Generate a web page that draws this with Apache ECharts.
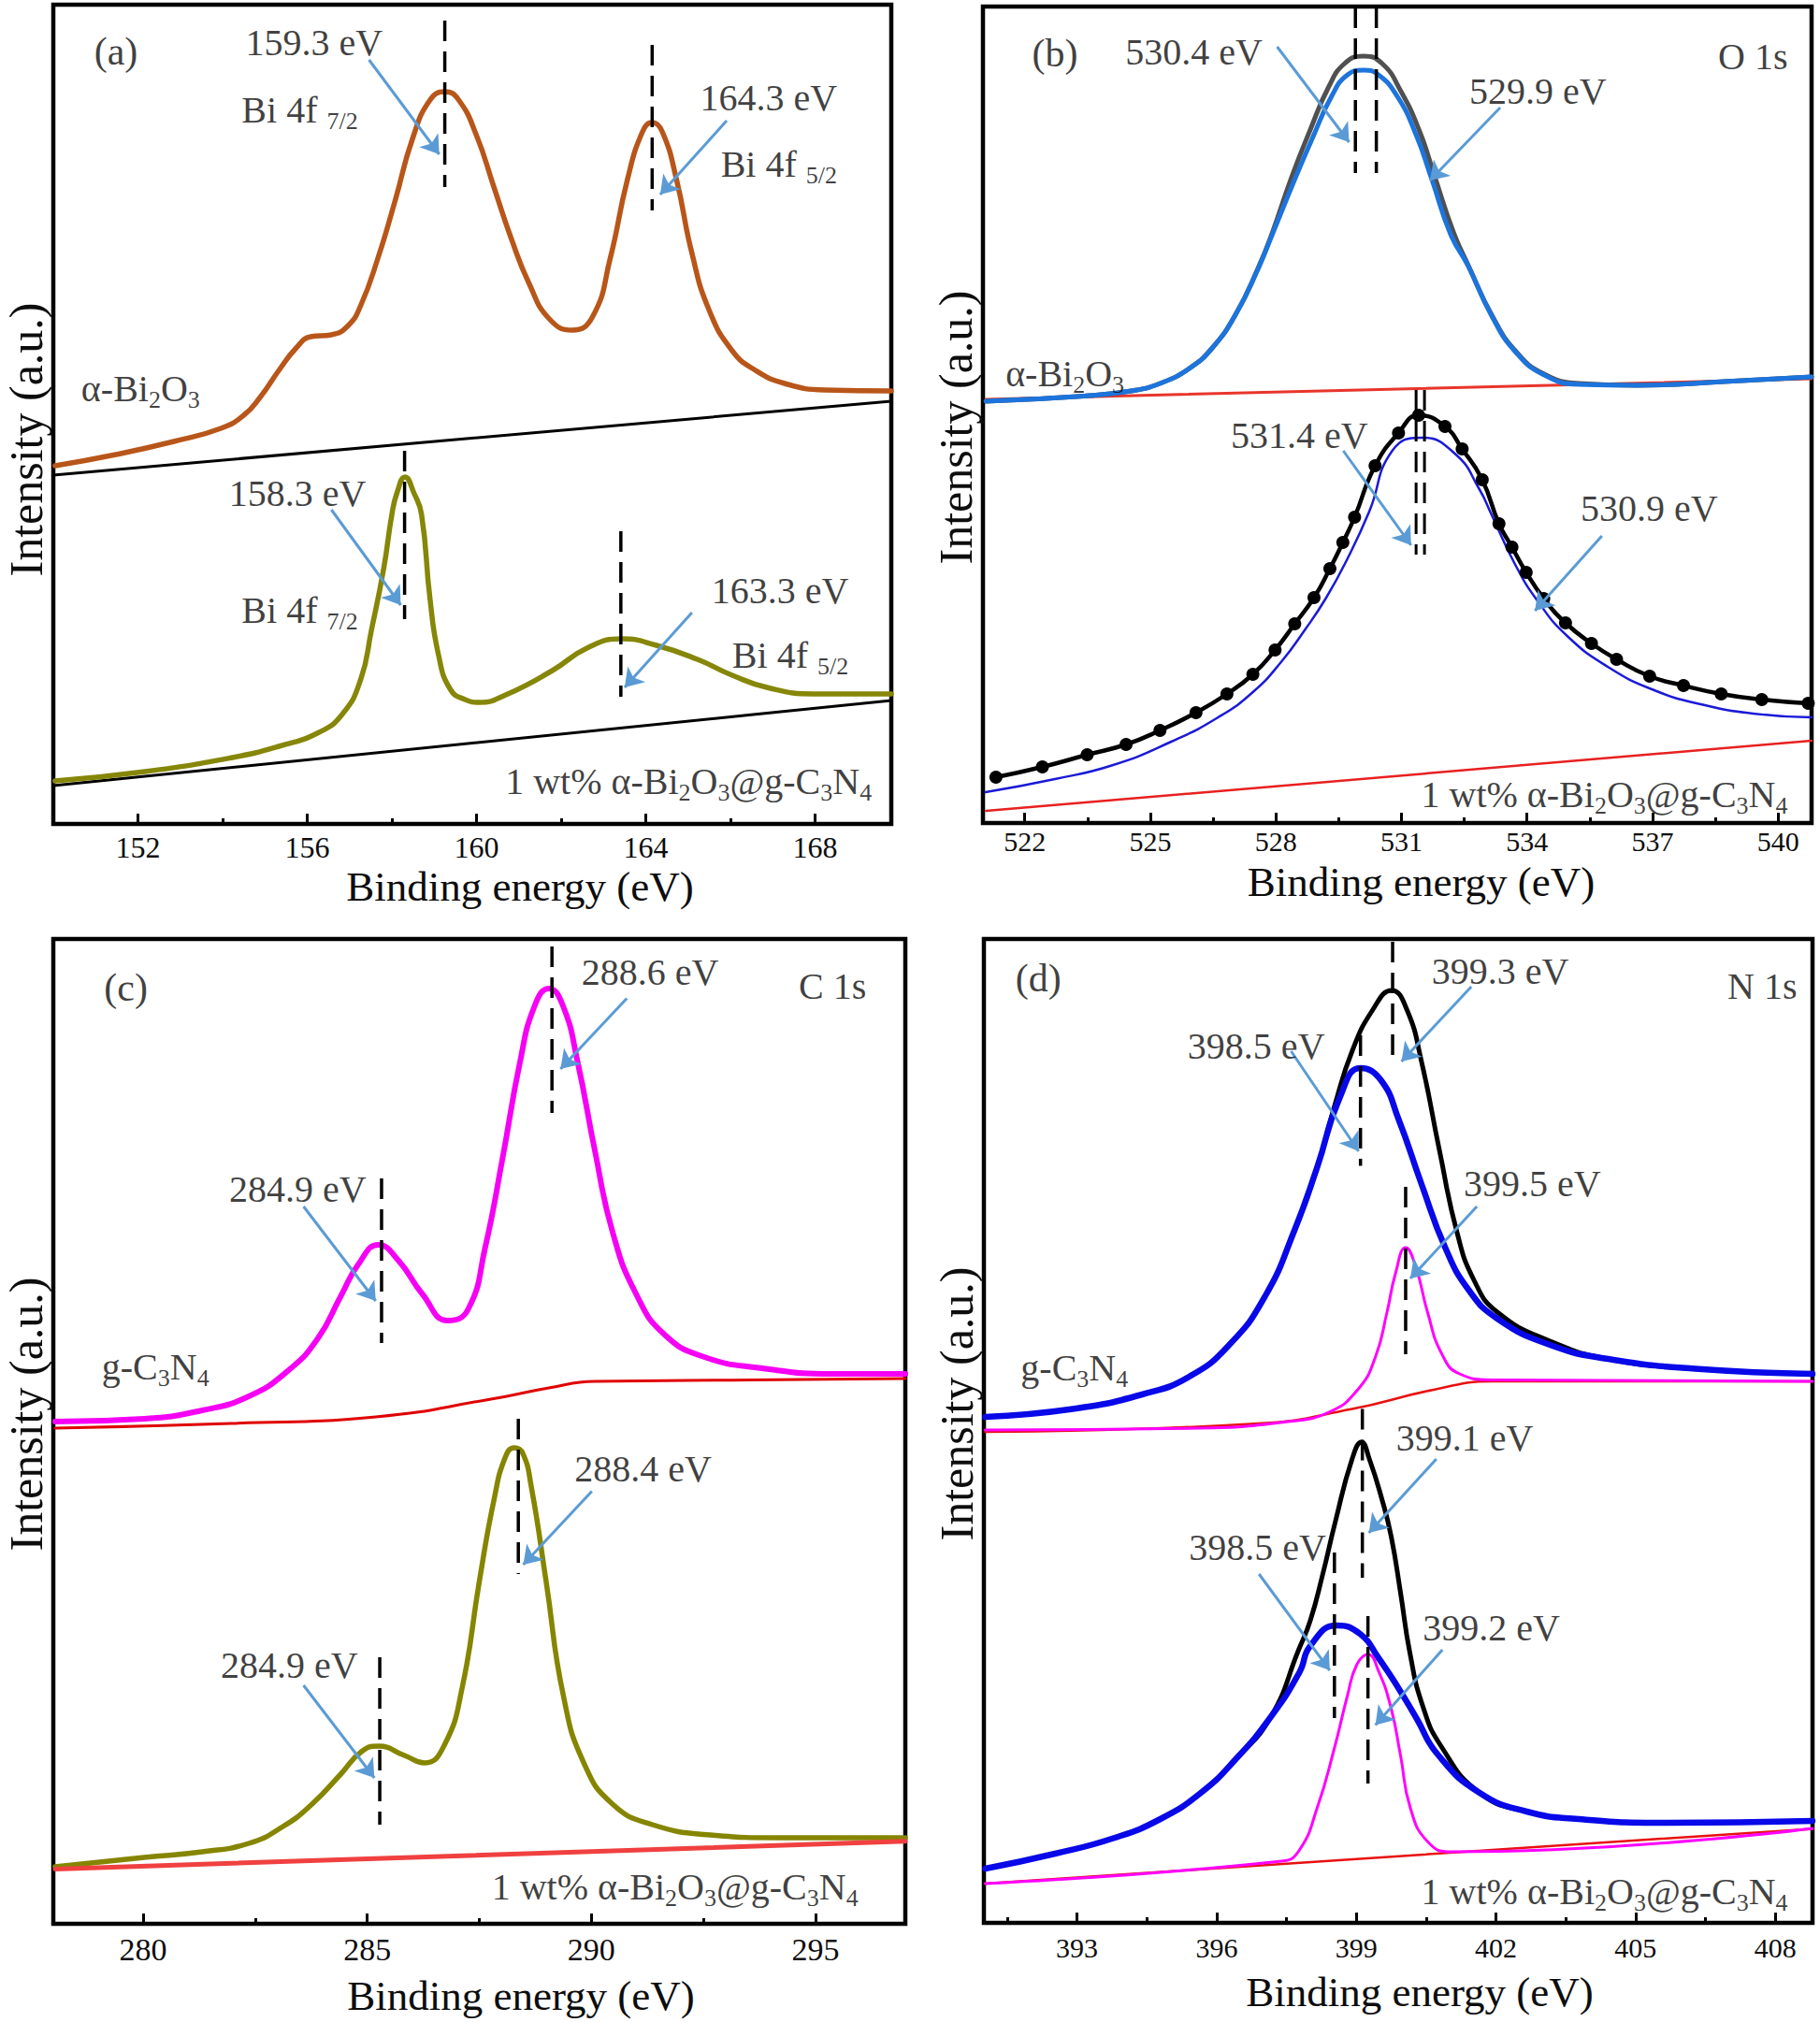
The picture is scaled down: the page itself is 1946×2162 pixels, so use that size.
<!DOCTYPE html>
<html><head><meta charset="utf-8">
<script src="https://cdn.jsdelivr.net/npm/echarts@6/dist/echarts.min.js"></script>
<style>html,body{margin:0;padding:0;background:#fff}#c{width:1946px;height:2162px}</style>
</head><body><div id="c"></div>
<script>
// ---------- tick labels ----------
const aTicks = [152,156,160,164,168];           const aMinor = [154,158,162,166];
const bTicks = [522,525,528,531,534,537,540];   const bMinor = [523.5,526.5,529.5,532.5,535.5,538.5];
const cTicks = [280,285,290,295];               const cMinor = [282.5,287.5,292.5];
const dTicks = [393,396,399,402,405,408];       const dMinor = [391.5,394.5,397.5,400.5,403.5,406.5];

// ---------- (a) Bi 4f : [binding energy eV, intensity a.u.] ----------
const aBi2O3 = [[150.04,383],[151.48,395],[152.85,409],[153.96,423],[154.5,437],[154.9,457],[155.33,485],[155.74,509],[156.08,521],[156.57,523],[156.97,533],[157.26,554],[157.67,605],[158.08,667],[158.49,733],[158.9,774],[159.25,783],[159.58,774],[160.0,736],[160.41,681],[160.82,626],[161.24,578],[161.72,540],[162.26,528],[162.75,543],[163.16,605],[163.56,688],[163.92,740],[164.15,750],[164.39,740],[164.73,688],[165.08,612],[165.49,550],[166.04,506],[166.59,485],[167.28,471],[168.23,464],[169.8,463]];
const aBi2O3Bg = [[150,373],[169.8,452]];
const aComp = [[150.04,46],[152.17,56],[154.23,71],[155.33,83],[156.28,98],[156.84,118],[157.26,154],[157.52,208],[157.81,274],[158.0,331],[158.12,354],[158.31,371],[158.52,354],[158.7,331],[158.9,241],[159.1,181],[159.38,144],[159.73,133],[160.07,130],[160.69,138],[161.79,164],[162.61,188],[163.43,198],[164.25,191],[165.22,176],[166.04,159],[166.86,146],[167.96,139],[169.8,139]];
const aCompBg = [[150,41],[169.8,132]];
const aPeaks = [[159.25,681,859],[164.15,656,833],[158.3,219,399],[163.41,136,313]]; // [eV, low, high]

// ---------- (b) O 1s ----------
const bBi2O3Env = [[521.07,451],[523.42,456.5],[524.54,462],[525.23,470],[525.93,486],[526.48,508],[527.04,544],[527.58,594],[527.92,632],[528.37,690],[528.81,740],[529.26,787],[529.64,812],[530.09,820],[530.54,812],[530.98,783],[531.43,740],[531.79,692],[532.24,632],[532.6,596],[533.16,543],[533.72,505],[534.41,480],[535.24,470],[536.63,468],[538.71,472],[540.8,477]];
const bBi2O3Fit = [[521.07,451],[523.42,456.5],[524.54,462],[525.23,470],[525.93,486],[526.48,508],[527.04,544],[527.58,593],[527.92,630],[528.43,686],[528.88,733],[529.33,777],[529.71,800],[530.09,805],[530.45,800],[530.9,777],[531.34,737],[531.72,689],[532.17,630],[532.6,595],[533.16,542],[533.72,504],[534.41,479],[535.24,469],[536.63,468],[538.71,472],[540.8,477]];
const bBi2O3Bg = [[521.07,453],[540.8,475]];
const bCompExp = [[521.31,49],[522.42,60],[523.49,73],[524.42,84],[525.23,99],[526.09,118],[526.83,138],[527.45,159],[527.98,185],[528.45,213],[528.91,241],[529.29,272],[529.6,300],[529.88,327],[530.37,382],[530.93,417],[531.41,436],[532.04,424],[532.45,400],[532.93,367],[533.33,320],[533.64,295],[533.98,268],[534.4,240],[534.92,214],[535.54,192],[536.14,175],[536.93,157],[537.74,147],[538.64,138],[539.61,132],[540.72,128]];
const bCompFit = [[521.06,33],[522.72,47],[524.11,62],[525.5,87],[526.62,113],[527.45,140],[528.14,173],[528.7,207],[529.19,240],[529.68,280],[530.23,333],[530.78,398],[531.48,412],[532.3,394],[532.86,357],[533.15,330],[533.71,277],[534.26,237],[534.96,200],[535.93,167],[537.04,142],[538.15,127],[539.4,117],[540.8,113]];
const bCompBg = [[521.07,13],[540.8,88]];
const bPeaks = [[529.9,695,872],[530.4,695,872],[531.35,287,463],[531.55,287,463]];

// ---------- (c) C 1s ----------
const cGCN = [[278.04,537],[280.03,540],[281.32,549],[282.36,564],[283.25,592],[283.9,626],[284.41,671],[284.8,705],[285.25,726],[285.7,709],[286.22,674],[286.8,645],[287.25,657],[287.63,723],[288.02,819],[288.41,922],[288.73,981],[289.05,1000],[289.37,981],[289.69,922],[290.08,826],[290.47,740],[290.99,674],[291.63,630],[292.52,606],[293.81,594],[295.37,588],[297,588]];
const cGCNBg = [[278.04,530],[281.96,535],[285.19,542],[287.76,561],[289.05,573],[290.08,580],[293.56,581.5],[297,583]];
const cComp = [[278.04,61],[280.03,71],[281.32,77],[282.36,86],[283.12,104],[283.77,128],[284.41,160],[284.87,184],[285.25,190],[285.83,180],[286.28,172],[286.73,192],[287.12,253],[287.5,366],[287.83,454],[288.08,499],[288.28,509],[288.47,503],[288.66,467],[288.99,366],[289.37,245],[289.83,172],[290.47,128],[291.36,106],[292.66,95],[294.2,92],[297,92]];
const cCompBg = [[278.04,58.5],[297,88.3]];
const cPeaks = [[285.32,621,797],[289.12,867,1045],[288.37,374,540],[285.28,106,285]];

// ---------- (d) N 1s ----------
const dGCNEnv = [[391.03,541],[392.91,549.5],[394.4,565],[395.41,584],[396.27,618],[397.04,670],[397.66,739],[398.16,808],[398.53,873],[398.91,932],[399.35,976],[399.76,997],[400.09,976],[400.4,921],[400.79,825],[401.16,739],[401.53,687],[402.03,653],[403.16,622],[404.41,603],[406.28,592.5],[408.8,587]];
const dGCNC1 = [[391.03,541],[392.91,549.5],[394.4,565],[395.41,584],[396.27,618],[397.04,670],[397.66,739],[398.16,808],[398.65,883],[399.09,914],[399.53,901],[399.91,859],[400.4,790],[400.91,722],[401.41,677],[402.03,646],[403.16,618],[404.41,603],[406.28,592.5],[408.8,587]];
const dGCNC2 = [[391.03,527],[395.65,529],[397.53,536],[398.41,546],[399.03,570],[399.41,605],[399.66,653],[399.84,694],[400.06,722],[400.28,701],[400.53,653],[400.84,608],[401.22,587],[401.91,580.5],[408.8,579]];
const dGCNBg = [[391.03,525],[396.9,534],[398.91,549.5],[400.66,570],[401.91,579],[408.8,579]];
const dCompEnv = [[391.03,58],[392.53,74],[393.78,90.5],[394.79,111],[395.66,139],[396.41,175],[397.16,220],[397.77,293],[398.01,323],[398.28,373],[398.55,429],[398.91,496],[399.11,514],[399.28,496],[399.55,453],[399.75,413],[399.95,353],[400.15,289],[400.42,233],[400.82,189],[401.65,139],[402.66,119],[403.78,111],[405.66,107],[408.8,109]];
const dCompC1 = [[391.03,58],[392.53,74],[393.78,90.5],[394.79,111],[395.66,139],[396.41,175],[397.16,220],[397.78,268],[398.01,296],[398.58,318],[399.08,309],[399.48,283],[399.88,253],[400.29,219],[400.75,180],[401.65,139],[402.66,119],[403.78,111],[405.66,107],[408.8,109]];
const dCompC2 = [[391.03,42],[397.4,66],[397.78,78],[398.16,123],[398.53,187],[398.81,243],[399.01,276],[399.25,287],[399.48,269],[399.75,229],[399.95,179],[400.16,123],[400.53,87],[401.03,76],[408.8,101]];
const dCompBg = [[391.03,42],[408.8,100.6]];
const dPeaks = [[399.09,809.5,949],[399.78,921,1049],[400.06,608,787],[399.13,369,549.5],[398.53,219,396],[399.25,149,328]];

// ---------- annotation texts: [text, x, y, align, fontSize] ----------
const BI = 'α-Bi{s|2}O{s|3}', COMP = '1 wt% α-Bi{s|2}O{s|3}@g-C{s|3}N{s|4}', GCN = 'g-C{s|3}N{s|4}';
const aNotes = [['(a)',151.48,826,'center',42],['159.3 eV',156.16,836,'center'],['Bi 4f {s|7/2}',154.45,764,'left'],['164.3 eV',166.9,777,'center'],['Bi 4f {s|5/2}',165.77,706,'left'],[BI,150.66,466,'left'],['158.3 eV',155.77,354,'center'],['Bi 4f {s|7/2}',154.45,229,'left'],['163.3 eV',167.17,250,'center'],['Bi 4f {s|5/2}',166.04,181,'left'],[COMP,169.34,46,'right']];
const bNotes = [['(b)',522.72,823,'center',42],['530.4 eV',526.04,825,'center'],['529.9 eV',534.26,783,'center'],['O 1s',540.23,820,'right'],[BI,521.54,481,'left'],['531.4 eV',528.56,415,'center'],['530.9 eV',536.92,337,'center'],[COMP,540.23,31,'right']];
const cNotes = [['(c)',279.62,1001,'center',42],['288.6 eV',291.31,1018,'center'],['C 1s',296.13,1003,'right'],['284.9 eV',283.45,786,'center'],[GCN,279.08,596,'left'],['288.4 eV',291.15,487,'center'],['284.9 eV',283.26,277,'center'],[COMP,295.95,40,'right']];
const dNotes = [['(d)',392.17,1010,'center',42],['399.3 eV',402.09,1018,'center'],['N 1s',408.47,1002,'right'],['398.5 eV',396.85,938,'center'],['399.5 eV',402.78,791,'center'],[GCN,391.79,594,'left'],['399.1 eV',401.33,519,'center'],['398.5 eV',396.88,402,'center'],['399.2 eV',401.9,316,'center'],[COMP,408.27,34,'right']];
// arrows: [from, to]
const aArrows = [[[157.46,817],[159.12,716]],[[165.91,752],[164.34,673]],[[156.57,336],[158.21,234]],[[165.09,226],[163.5,146]]];
const bArrows = [[[528.03,830],[529.75,728]],[[533.36,765],[531.68,687]],[[529.61,398],[531.23,297]],[[535.79,307],[534.19,227]]];
const cArrows = [[[283.58,767],[285.19,666]],[[290.79,989.5],[289.31,914]],[[283.58,255],[285.16,156]],[[290.01,462.5],[288.48,384]]];
const dArrows = [[[397.6,932],[399.05,825]],[[401.47,1001],[399.97,921]],[[401.59,766],[400.16,689]],[[400.72,496],[399.27,417]],[[396.91,373],[398.43,270]],[[400.85,292],[399.41,211.5]]];

// ---------- layout ----------
const FONT = "'Liberation Serif','Times New Roman',serif";
const TXT = '#0d0d0d', ARROW = '#5B9BD5';
const panels = [
  {box:[57,5,896,876],     xr:[150,169.8], ymax:876,  major:aTicks, minor:aMinor, tf:32, tm:9,  ng:44, ns:51,   ys:27},
  {box:[1051,7,886,873],   xr:[521,540.8], ymax:873,  major:bTicks, minor:bMinor, tf:30, tm:4,  ng:40, ns:25.5, ys:13.5},
  {box:[57,1004,911,1053], xr:[278,297],   ymax:1053, major:cTicks, minor:cMinor, tf:34, tm:10, ng:54, ns:44.5, ys:-18.5},
  {box:[1052,1004,886,1052], xr:[391,408.8], ymax:1052, major:dTicks, minor:dMinor, tf:30, tm:11, ng:51, ns:23, ys:-29}
];

const grid = [], xAxis = [], yAxis = [], series = [];
panels.forEach((p, g) => {
  grid.push({left:p.box[0], top:p.box[1], width:p.box[2], height:p.box[3], show:true, borderColor:'#000', borderWidth:4.5, backgroundColor:'transparent', containLabel:false, outerBoundsMode:'none'});
  xAxis.push({gridIndex:g, type:'value', min:p.xr[0], max:p.xr[1], position:'bottom',
    name:'Binding energy (eV)', nameLocation:'middle', nameGap:p.ng,
    nameTextStyle:{fontFamily:FONT, fontSize:45, color:TXT, padding:[0,0,0,2*p.ns]},
    axisLine:{show:false}, splitLine:{show:false},
    axisTick:{show:true, inside:true, length:11, lineStyle:{color:'#000', width:3}, customValues:p.major},
    axisLabel:{show:true, customValues:p.major, fontFamily:FONT, fontSize:p.tf, color:TXT, margin:p.tm}});
  xAxis.push({gridIndex:g, type:'value', min:p.xr[0], max:p.xr[1], position:'bottom',
    axisLine:{show:false}, splitLine:{show:false}, axisLabel:{show:false},
    axisTick:{show:true, inside:true, length:6, lineStyle:{color:'#000', width:3}, customValues:p.minor}});
  yAxis.push({gridIndex:g, type:'value', min:0, max:p.ymax,
    name:'Intensity (a.u.)', nameLocation:'middle', nameGap:4,
    nameTextStyle:{fontFamily:FONT, fontSize:50, color:TXT, padding: p.ys > 0 ? [0, 2*p.ys, 0, 0] : [0, 0, 0, -2*p.ys]},
    axisLine:{show:false}, axisTick:{show:false}, axisLabel:{show:false}, splitLine:{show:false}});
});

function curve(g, data, color, width, extra) {
  return Object.assign({type:'line', xAxisIndex:2*g, yAxisIndex:g, data:data, smooth:0.5,
    symbol:'none', lineStyle:{color:color, width:width, join:'round', cap:'round'}, itemStyle:{color:color},
    silent:true, animation:false}, extra || {});
}
function peaks(g, list, width) {
  list.forEach(m => series.push({type:'line', xAxisIndex:2*g, yAxisIndex:g, data:[[m[0],m[2]],[m[0],m[1]]],
    symbol:'none', lineStyle:{color:'#000', width:width, type:[22,11]}, silent:true, animation:false, z:5}));
}
function notes(g, list, arrows) {
  series.push({type:'scatter', xAxisIndex:2*g, yAxisIndex:g, symbolSize:1, itemStyle:{color:'rgba(0,0,0,0)'},
    silent:true, animation:false, z:10,
    data: list.map(n => ({value:[n[1], n[2]], t:n[0], label:{align:n[3], fontSize:n[4] || 40}})),
    label:{show:true, position:'inside', formatter:p => p.data.t, fontFamily:FONT, fontSize:40, color:TXT,
      lineHeight:40, verticalAlign:'middle',
      rich:{s:{fontFamily:FONT, fontSize:26, lineHeight:26, color:TXT, padding:[24,0,0,0]}}}
  });
  series.push({type:'line', xAxisIndex:2*g, yAxisIndex:g, data:[], symbol:'none', silent:true, animation:false, z:9,
    itemStyle:{color:ARROW}, lineStyle:{color:ARROW},
    markLine:{silent:true, animation:false, symbol:['none','arrow'], symbolSize:19, label:{show:false},
      emphasis:{disabled:true}, lineStyle:{color:ARROW, width:3, type:'solid'}, itemStyle:{color:ARROW},
      data: arrows.map(a => [{coord:a[0], symbol:'none'}, {coord:a[1], symbol:'arrow', symbolSize:19, itemStyle:{color:ARROW}}])}
  });
}

// (a)
series.push(curve(0, aBi2O3Bg, '#000', 3));
series.push(curve(0, aBi2O3, '#B8561A', 5.5));
series.push(curve(0, aCompBg, '#000', 3));
series.push(curve(0, aComp, '#868608', 5.5));
peaks(0, aPeaks, 3.5); notes(0, aNotes, aArrows);
// (b)
series.push(curve(1, bBi2O3Bg, '#E8352B', 3));
series.push(curve(1, bBi2O3Env, '#505050', 5));
series.push(curve(1, bBi2O3Fit, '#1C74DC', 5));
series.push(curve(1, bCompBg, '#E82020', 2.5));
series.push(curve(1, bCompFit, '#1A1AD8', 2.5));
series.push(curve(1, bCompExp, '#000', 4.5, {symbol:'circle', symbolSize:14, showSymbol:true, showAllSymbol:true, itemStyle:{color:'#000'}}));
peaks(1, bPeaks.slice(0,2), 3.5); peaks(1, bPeaks.slice(2), 3); notes(1, bNotes, bArrows);
// (c)
series.push(curve(2, cGCNBg, '#E00000', 3));
series.push(curve(2, cGCN, '#F500F5', 6));
series.push(curve(2, cComp, '#858500', 5.5));
series.push(curve(2, cCompBg, '#F04040', 5));
peaks(2, cPeaks, 3.5); notes(2, cNotes, cArrows);
// (d)
series.push(curve(3, dGCNEnv, '#000', 5));
series.push(curve(3, dGCNC1, '#0808E8', 6.5));
series.push(curve(3, dGCNBg, '#E81010', 2.5));
series.push(curve(3, dGCNC2, '#FF00FF', 3));
series.push(curve(3, dCompEnv, '#000', 5));
series.push(curve(3, dCompC1, '#0808E8', 6.5));
series.push(curve(3, dCompBg, '#E81010', 2.5));
series.push(curve(3, dCompC2, '#FF00FF', 3));
peaks(3, dPeaks, 3.5); notes(3, dNotes, dArrows);

const chart = echarts.init(document.getElementById('c'), null, {renderer:'svg', width:1946, height:2162});
chart.setOption({backgroundColor:'#fff', animation:false, textStyle:{fontFamily:FONT}, grid, xAxis, yAxis, series});
</script></body></html>
